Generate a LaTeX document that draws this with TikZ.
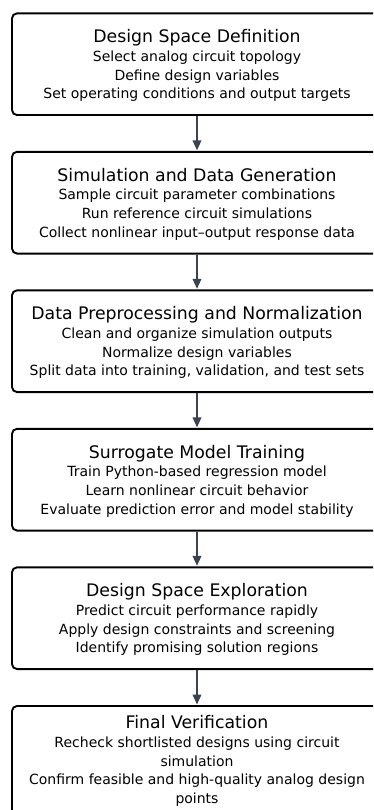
\documentclass[tikz,border=0pt]{standalone}
\usepackage{fontspec}
\setmainfont{DejaVu Sans}
\usetikzlibrary{arrows.meta}
\definecolor{arrowgray}{HTML}{3B4250}
\tikzset{
  stagebox/.style={draw=black, line width=1.9pt, rounded corners=5pt, fill=white,
    minimum width=370pt, minimum height=101.7pt, inner sep=0pt},
  stagetext/.style={align=center, font=\fontsize{14}{18.7}\selectfont, inner sep=0pt},
  flow/.style={draw=arrowgray, line width=1.9pt,
    -{Triangle[length=10pt,width=8.5pt]}, shorten >=0.5pt}
}
\newcommand{\stagetitle}[1]{{\fontsize{17.3}{18.7}\selectfont #1}}
\begin{document}
\begin{tikzpicture}[x=1pt,y=-1pt]
\useasboundingbox (0,0) rectangle (373,810);
\begin{scope}
\clip (0,0) rectangle (373,810);
% process stages, top to bottom
\node[stagebox] (b1) at (197,64.2) {};
\node[stagebox] (b2) at (197,202.7) {};
\node[stagebox] (b3) at (197,341.2) {};
\node[stagebox] (b4) at (197,479.7) {};
\node[stagebox] (b5) at (197,618.2) {};
\node[stagebox, minimum height=124pt] (b6) at (197,768) {};

\node[stagetext] (t1) at (197,65.7) {\stagetitle{Design Space Definition}\\
  Select analog circuit topology\\
  Define design variables\\
  Set operating conditions and output targets};
\node[stagetext] (t2) at (197,204.2) {\stagetitle{Simulation and Data Generation}\\
  Sample circuit parameter combinations\\
  Run reference circuit simulations\\
  Collect nonlinear input--output response data};
\node[stagetext] (t3) at (197,342.7) {\stagetitle{Data Preprocessing and Normalization}\\
  Clean and organize simulation outputs\\
  Normalize design variables\\
  Split data into training, validation, and test sets};
\node[stagetext] (t4) at (197,481.2) {\stagetitle{Surrogate Model Training}\\
  Train Python-based regression model\\
  Learn nonlinear circuit behavior\\
  Evaluate prediction error and model stability};
\node[stagetext] (t5) at (197,619.7) {\stagetitle{Design Space Exploration}\\
  Predict circuit performance rapidly\\
  Apply design constraints and screening\\
  Identify promising solution regions};
\node[stagetext] (t6) at (197,761) {\stagetitle{Final Verification}\\
  Recheck shortlisted designs using circuit\\
  simulation\\
  Confirm feasible and high-quality analog design\\
  points};

% connectors
\draw[flow] (b1.south) -- (b2.north);
\draw[flow] (b2.south) -- (b3.north);
\draw[flow] (b3.south) -- (b4.north);
\draw[flow] (b4.south) -- (b5.north);
\draw[flow] (b5.south) -- (b6.north);
\end{scope}
\end{tikzpicture}
\end{document}
